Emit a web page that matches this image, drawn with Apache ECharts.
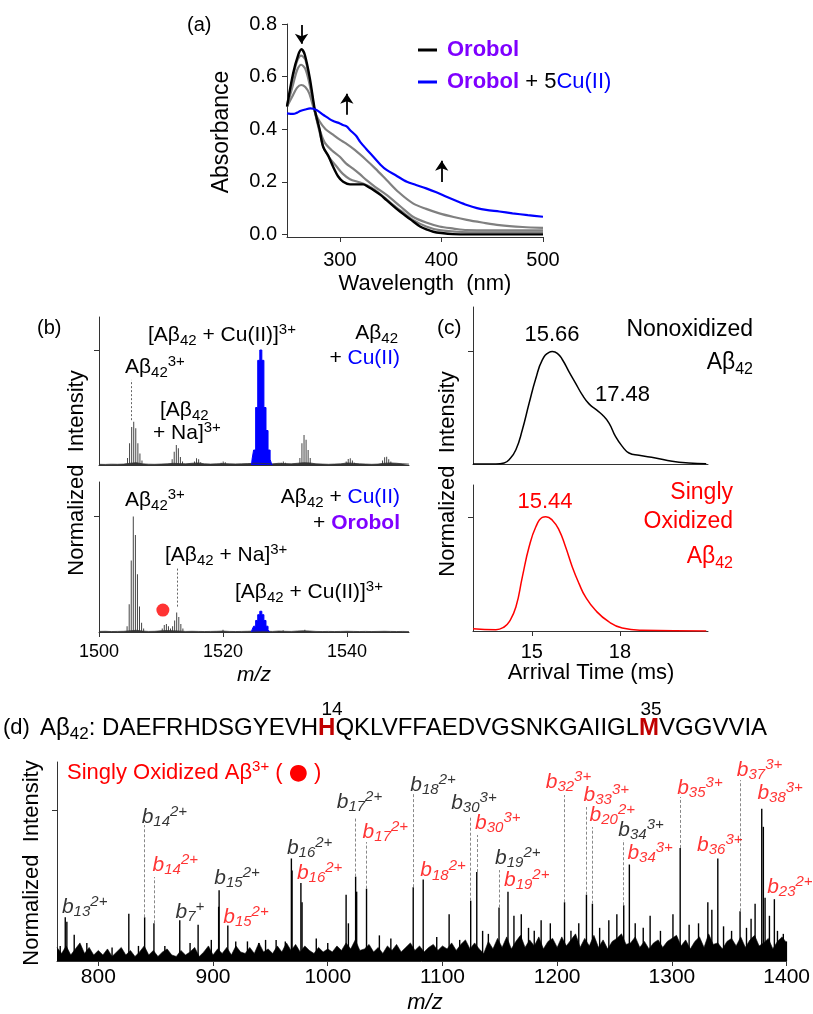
<!DOCTYPE html>
<html lang="en">
<head>
<meta charset="UTF-8">
<title>Orobol / Aβ42 figure</title>
<script src="https://cdn.jsdelivr.net/npm/echarts@6.0.0/dist/echarts.min.js"></script>
<style>
  html, body { margin: 0; padding: 0; background: #fff; }
  #fig { width: 813px; height: 1014px; }
</style>
</head>
<body>
<div id="fig"></div>
<script>
// ---------- (a) UV-vis spectra, [nm, absorbance]
var aBlack = [[248,0.486],[254,0.612],[259,0.682],[262.3,0.704],[265.6,0.682],[270.5,0.593],[275.4,0.473],[280,0.4],[283.6,0.333],[288.5,0.3],[293.4,0.257],[298.4,0.22],[303.3,0.2],[310,0.19],[316,0.19],[323,0.19],[328,0.18],[333,0.169],[340,0.15],[346,0.13],[355,0.1],[366,0.067],[372,0.05],[379,0.03],[386,0.018],[392,0.01],[400,0.005],[411,0.001],[430,0],[460,0],[500,0]];
var aGray1 = [[248,0.486],[254,0.6],[258,0.66],[262,0.68],[266,0.665],[270,0.59],[275,0.475],[280,0.39],[284,0.33],[290,0.29],[297,0.257],[303,0.23],[310,0.21],[320,0.197],[330,0.18],[339,0.156],[350,0.12],[360,0.09],[372,0.055],[385,0.03],[398,0.016],[420,0.009],[440,0.008],[500,0.008]];
var aGray2 = [[248,0.486],[254,0.57],[258,0.625],[262,0.645],[266,0.63],[270,0.575],[275,0.475],[280,0.4],[285,0.35],[292,0.32],[300,0.295],[306,0.27],[313,0.25],[320,0.228],[326,0.207],[335,0.18],[346,0.15],[360,0.105],[372,0.067],[385,0.045],[398,0.03],[412,0.022],[425,0.016],[450,0.015],[500,0.015]];
var aGray3 = [[248,0.486],[254,0.53],[258,0.558],[262,0.568],[266,0.56],[270,0.535],[275,0.47],[280,0.43],[286,0.4],[293,0.38],[300,0.36],[306,0.346],[315,0.32],[326,0.283],[335,0.25],[346,0.207],[358,0.16],[372,0.118],[385,0.097],[398,0.08],[412,0.066],[425,0.055],[440,0.045],[457,0.035],[480,0.028],[500,0.025]];
var aBlue = [[248,0.46],[254,0.458],[258,0.463],[261,0.469],[266,0.475],[271,0.479],[277,0.473],[284,0.454],[293,0.432],[300,0.422],[303,0.416],[307,0.41],[310,0.397],[316,0.375],[320,0.352],[326,0.325],[333,0.295],[340,0.265],[346,0.245],[355,0.225],[366,0.2],[375,0.188],[385,0.175],[395,0.16],[405,0.143],[415,0.127],[425,0.112],[435,0.1],[444,0.093],[457,0.087],[470,0.08],[485,0.073],[500,0.067]];
var aTicksX = [300, 400, 500];
var aTicksY = [0, 0.2, 0.4, 0.6, 0.8];
// arrows: [nm, from, to]
var aArrows = [[262.3,0.796,0.725],[306.9,0.455,0.535],[400.3,0.199,0.28]];

// ---------- (b) mass spectra, [m/z, normalized intensity]
var bUpPeaks = [[1504.6,0.06],[1504.93,0.19],[1505.27,0.33],[1505.6,0.377],[1505.93,0.32],[1506.27,0.19],[1506.6,0.1],[1506.93,0.04],
  [1511.8,0.05],[1512.13,0.116],[1512.47,0.174],[1512.8,0.145],[1513.13,0.07],[1513.47,0.03],
  [1515.4,0.03],[1515.73,0.058],[1516.07,0.05],[1516.4,0.025],
  [1519.7,0.02],[1520.03,0.03],[1520.37,0.025],
  [1529.4,0.02],[1529.73,0.03],[1530.07,0.02],
  [1532.4,0.06],[1532.73,0.19],[1533.07,0.26],[1533.4,0.22],[1533.73,0.13],[1534.07,0.06],
  [1539.87,0.03],[1540.2,0.052],[1540.53,0.058],[1540.87,0.04],[1541.2,0.02],
  [1545.73,0.04],[1546.07,0.067],[1546.4,0.072],[1546.73,0.05],[1547.07,0.03]];
var bUpCu = [[1524.6,0],[1524.77,0.05],[1525.1,0.13],[1525.43,0.5],[1525.77,0.91],[1526.1,1.0],[1526.43,0.91],[1526.77,0.5],[1527.1,0.3],[1527.43,0.13],[1527.77,0.05],[1528.0,0]];
var bLoPeaks = [[1504.53,0.05],[1504.87,0.24],[1505.2,0.62],[1505.53,1.0],[1505.87,0.84],[1506.2,0.5],[1506.53,0.22],[1506.87,0.08],[1507.2,0.03],
  [1510.2,0.03],[1510.53,0.06],[1510.87,0.07],[1511.2,0.05],[1511.53,0.03],
  [1511.87,0.05],[1512.2,0.1],[1512.53,0.17],[1512.87,0.13],[1513.2,0.07],[1513.53,0.03],
  [1520.0,0.02],[1529.7,0.015],[1533.2,0.02]];
var bLoCu = [[1524.6,0],[1524.77,0.02],[1525.1,0.05],[1525.43,0.1],[1525.77,0.15],[1526.1,0.18],[1526.43,0.15],[1526.77,0.1],[1527.1,0.05],[1527.43,0.02],[1527.6,0]];
var bOxDot = [[1510.3,0.19]];
var bNoiseStart = 1500, bNoiseStep = 1;
var bUpNoise = [0.006,0.005,0.007,0.006,0.008,0.015,0.02,0.01,0.007,0.006,0.008,0.01,0.015,0.012,0.01,0.015,0.018,0.01,0.008,0.01,0.012,0.01,0.009,0.01,0.012,0.015,0.015,0.012,0.01,0.015,0.012,0.01,0.015,0.02,0.018,0.01,0.008,0.006,0.008,0.01,0.018,0.015,0.01,0.008,0.006,0.008,0.015,0.018,0.015,0.01,0.008];
var bLoNoise = [0.005,0.006,0.004,0.005,0.006,0.01,0.015,0.008,0.005,0.006,0.01,0.012,0.01,0.008,0.005,0.006,0.005,0.004,0.005,0.006,0.008,0.005,0.004,0.005,0.006,0.008,0.005,0.006,0.005,0.008,0.006,0.005,0.008,0.01,0.008,0.005,0.004,0.005,0.004,0.005,0.006,0.005,0.004,0.005,0.004,0.005,0.006,0.005,0.004,0.005,0.004];
var bTicksX = [1500, 1520, 1540];
// dotted guides: [m/z, from, to]
var bUpGuide = [[1505.2,0.39,0.74]];
var bLoGuide = [[1512.6,0.22,0.554]];

// ---------- (c) arrival time distributions, [ms, normalized intensity]
var cBlack = [[13,0],[13.78,0],[14.06,0.009],[14.23,0.038],[14.46,0.127],[14.68,0.305],[14.91,0.54],[15.14,0.763],[15.36,0.926],[15.59,0.994],[15.7,1.0],[15.87,0.985],[16.04,0.93],[16.27,0.82],[16.49,0.72],[16.72,0.615],[16.95,0.535],[17.17,0.488],[17.4,0.438],[17.63,0.364],[17.85,0.246],[18.08,0.157],[18.31,0.098],[18.65,0.077],[19.21,0.053],[19.78,0.024],[20.34,0.009],[20.94,0.003]];
var cRed = [[13,0.02],[13.78,0.012],[14.06,0.035],[14.23,0.079],[14.46,0.21],[14.68,0.474],[14.91,0.737],[15.14,0.912],[15.36,0.994],[15.48,1.0],[15.7,0.97],[15.93,0.883],[16.15,0.737],[16.38,0.561],[16.61,0.415],[16.83,0.298],[17.17,0.181],[17.63,0.079],[18.08,0.026],[18.76,0.006],[20.94,0]];
var cTicksX = [15, 18];

// ---------- (d) MS/MS spectrum, [m/z, normalized intensity]
var dPeaks = [[766.8,0.1],[771.2,0.29],[772.6,0.26],[779,0.174],[790,0.12],[812,0.09],[826.6,0.314],[835,0.1],[840.4,0.29],[848.5,0.25],[858,0.1],[871,0.27],[880,0.12],[887,0.24],[898.5,0.14],[904.9,0.36],[905.3,0.47],[912.9,0.236],[919.8,0.13],[930,0.13],[940,0.12],[945.8,0.14],[955,0.14],[963,0.13],[968.3,0.68],[968.9,0.6],[976.6,0.517],[977.6,0.39],[990,0.15],[1000,0.12],
  [1016,0.44],[1018,0.25],[1024.3,0.56],[1025.2,0.46],[1033.8,0.48],[1045,0.17],[1055,0.15],[1074.5,0.49],[1083.2,0.54],[1095,0.16],[1105.8,0.31],[1115,0.14],[1124.6,0.4],[1129.9,0.59],[1135,0.2],[1140,0.18],[1149.3,0.355],[1157.1,0.46],[1162.3,0.3],[1168.7,0.31],[1175,0.22],[1180,0.2],[1186,0.27],[1194,0.25],
  [1206.4,0.39],[1212,0.2],[1218.8,0.25],[1225.5,0.44],[1230.7,0.38],[1237,0.22],[1245,0.27],[1252,0.31],[1258,0.37],[1262.9,0.64],[1268,0.25],[1275,0.22],[1281,0.3],[1290,0.2],[1300.9,0.31],[1307.2,0.75],[1315,0.24],[1323.2,0.25],[1331.3,0.39],[1334.8,0.34],[1340,0.68],[1345,0.23],[1352,0.2],[1359.4,0.33],[1365,0.22],[1369,0.28],[1372.5,0.38],[1378.3,1.01],[1379.7,0.89],[1381.2,0.42],[1385,0.3],[1389.3,0.41],[1392,0.2],[1397.1,0.18],[1400,0.13]];
var dNoiseStart = 764, dNoiseStep = 4;
var dNoise = [0.09,0.05,0.1,0.04,0.08,0.12,0.05,0.09,0.04,0.07,
  0.04,0.08,0.03,0.06,0.09,0.04,0.07,0.03,0.06,0.1,0.04,0.07,0.03,0.06,0.08,0.04,0.03,0.07,0.04,0.06,0.09,0.03,0.06,0.1,0.04,
  0.08,0.05,0.09,0.04,0.1,0.06,0.05,0.09,0.05,0.12,0.06,0.08,0.05,0.1,0.06,0.12,0.07,0.11,0.06,0.1,0.07,0.05,0.09,0.06,0.08,
  0.06,0.1,0.07,0.12,0.08,0.14,0.07,0.08,0.11,0.06,0.09,0.05,0.1,0.07,0.11,0.06,0.09,0.12,0.07,0.1,0.06,0.09,0.11,0.07,0.1,
  0.08,0.12,0.07,0.11,0.14,0.08,0.12,0.08,0.05,0.13,0.08,0.15,0.09,0.16,0.08,0.13,0.17,0.09,0.14,0.1,0.16,0.08,0.13,0.15,0.09,
  0.16,0.1,0.14,0.18,0.09,0.15,0.1,0.17,0.09,0.14,0.08,0.13,0.15,0.18,0.11,0.12,0.16,0.09,0.13,0.08,0.12,0.14,0.09,0.13,0.15,
  0.17,0.1,0.14,0.08,0.13,0.16,0.09,0.18,0.11,0.12,0.08,0.13,0.15,0.1,0.16,0.09,0.14,0.17,0.1,0.12,0.15,0.08,0.13,0.16,0.12];
var dTicksX = [800, 900, 1000, 1100, 1200, 1300, 1400];
// fragment labels: [m/z of label left edge, label height, index, charge]
var dLabBlack = [[768.3,0.358,'13','2+'],[837.8,0.955,'14','2+'],[901.1,0.55,'15','2+'],[867.3,0.325,'7','+'],[964.4,0.75,'16','2+'],[1007.8,1.054,'17','2+'],[1072,1.167,'18','2+'],[1107.6,1.048,'30','3+'],[1145.8,0.683,'19','2+'],[1253.3,0.869,'34','3+']];
var dLabRed = [[847.3,0.637,'14','2+'],[908.9,0.292,'15','2+'],[973.1,0.584,'16','2+'],[1030.4,0.855,'17','2+'],[1128.4,0.915,'30','3+'],[1080.7,0.6,'18','2+'],[1153.6,0.537,'19','2+'],[1190,1.187,'32','3+'],[1223,1.101,'33','3+'],[1228.2,0.968,'20','2+'],[1261.2,0.716,'34','3+'],[1304.6,1.147,'35','3+'],[1321.9,0.769,'36','3+'],[1356.6,1.267,'37','3+'],[1374.5,1.114,'38','3+'],[1383,0.491,'23','2+']];
// dashed guides: [m/z, from, to]
var dGuides = [[840.4,0.29,0.902],[848.5,0.25,0.557],[1024.3,0.56,0.955],[1033.8,0.48,0.789],[1074.5,0.49,1.114],[1124.6,0.4,0.955],[1129.9,0.59,0.836],[1149.3,0.355,0.603],[1206.4,0.39,1.101],[1225.5,0.44,1.021],[1230.7,0.38,0.889],[1258,0.37,0.802],[1307.2,0.75,1.088],[1359.4,0.33,1.2]];

var FONT = '"Liberation Sans", Arial, sans-serif';
var AX = '#333';
var BLUE = '#0000ff', PURPLE = '#7f00ff', RED = '#ff0000', DARKRED = '#c00000';

function pairs(start, step, vals) {
  return vals.map(function (v, i) { return [start + i * step, v]; });
}
function guides(list) {
  return list.map(function (g) { return [{coord: [g[0], g[1]]}, {coord: [g[0], g[2]]}]; });
}

function xAx(gi, min, max, ticks, fs, margin) {
  return {
    type: 'value', gridIndex: gi, min: min, max: max,
    axisLine: {show: true, onZero: false, lineStyle: {color: AX, width: 1}},
    axisTick: {show: ticks.length > 0, length: 5, customValues: ticks, lineStyle: {color: AX}},
    axisLabel: {show: ticks.length > 0, customValues: ticks, fontSize: fs, fontFamily: FONT, color: '#000', margin: margin,
      formatter: function (v) { return String(v); }},
    splitLine: {show: false}
  };
}
function yAx(gi, min, max, ticks, labels) {
  return {
    type: 'value', gridIndex: gi, min: min, max: max,
    axisLine: {show: true, onZero: false, lineStyle: {color: AX, width: 1}},
    axisTick: {show: true, length: 5, customValues: ticks, lineStyle: {color: AX}},
    axisLabel: {show: !!labels, customValues: ticks, fontSize: 20, fontFamily: FONT, color: '#000', margin: 10,
      formatter: function (v) { return v.toFixed(1); }},
    splitLine: {show: false}
  };
}

function rich(fs, c) {
  var sm = Math.round(fs * 0.7), lh = Math.round(fs * 1.25);
  function st(size, va, extra) {
    var o = {fontSize: size, fontFamily: FONT, lineHeight: size === fs ? lh : size, verticalAlign: va, fill: c};
    for (var k in extra) o[k] = extra[k];
    return o;
  }
  return {
    n: st(fs, 'middle', {}),
    s: st(sm, 'bottom', {}),
    p: st(sm, 'top', {}),
    nb: st(fs, 'middle', {fill: BLUE}),
    np: st(fs, 'middle', {fill: PURPLE, fontWeight: 'bold'}),
    r: st(fs, 'middle', {fill: DARKRED, fontWeight: 'bold'}),
    dot: st(fs, 'middle', {fontFamily: '"DejaVu Sans", sans-serif'})
  };
}
function txt(x, y, text, o) {
  o = o || {};
  var fs = o.fs || 20, c = o.color || '#000';
  return {
    type: 'text', x: x, y: y, rotation: o.rot || 0, silent: true,
    style: {
      text: text, fill: c, fontSize: fs, fontFamily: FONT,
      fontWeight: o.bold ? 'bold' : 'normal', fontStyle: o.italic ? 'italic' : 'normal',
      align: o.align || 'left', verticalAlign: 'middle', rich: rich(fs, c)
    }
  };
}
function seg(x1, y1, x2, y2, c, w) {
  return {type: 'line', silent: true, shape: {x1: x1, y1: y1, x2: x2, y2: y2}, style: {stroke: c, lineWidth: w}};
}

var stickRich = {
  b: {fontStyle: 'italic', fontSize: 21, fontFamily: FONT, lineHeight: 25, verticalAlign: 'middle'},
  s: {fontStyle: 'italic', fontSize: 15, fontFamily: FONT, lineHeight: 15, verticalAlign: 'bottom'},
  p: {fontStyle: 'italic', fontSize: 15, fontFamily: FONT, lineHeight: 15, verticalAlign: 'top'}
};
function labSeries(list, color) {
  return {
    type: 'scatter', xAxisIndex: 5, yAxisIndex: 5, symbolSize: 0, silent: true, z: 5,
    data: list.map(function (l) { return {value: [l[0], l[1]], sub: l[2], sup: l[3]}; }),
    label: {
      show: true, position: 'right', distance: 0, color: color,
      formatter: function (p) { return '{b|b}{s|' + p.data.sub + '}{p|' + p.data.sup + '}'; },
      rich: stickRich
    }
  };
}
function line(xi, data, color, width, smooth) {
  return {type: 'line', xAxisIndex: xi, yAxisIndex: xi, data: data, symbol: 'none', smooth: smooth,
    silent: true, lineStyle: {color: color, width: width}};
}

var chart = echarts.init(document.getElementById('fig'), null, {renderer: 'canvas'});

var blackA = line(0, aBlack, '#000', 2.4, 0.3);
blackA.markLine = {silent: true, symbol: ['none', 'arrow'], symbolSize: 10, animation: false,
  lineStyle: {color: '#000', width: 1.8, type: 'solid'}, label: {show: false},
  data: guides(aArrows)};

var dotted = {silent: true, symbol: ['none', 'none'], animation: false, label: {show: false},
  lineStyle: {color: '#666', width: 1, type: [2, 2]}};

var option = {
  animation: false,
  backgroundColor: '#fff',
  grid: [
    {left: 287, top: 24, width: 256, height: 213},
    {left: 99, top: 317, width: 310, height: 148},
    {left: 99, top: 482, width: 310, height: 150},
    {left: 473, top: 307, width: 235, height: 157},
    {left: 473, top: 485, width: 235, height: 146},
    {left: 57, top: 762, width: 733, height: 199}
  ],
  xAxis: [
    xAx(0, 248, 500, aTicksX, 20, 13),
    xAx(1, 1500, 1550, [], 18, 10),
    xAx(2, 1500, 1550, bTicksX, 18, 11),
    xAx(3, 13, 21, [], 20, 10),
    xAx(4, 13, 21, cTicksX, 20, 11),
    xAx(5, 764, 1400, dTicksX, 21, 6)
  ],
  yAxis: [
    yAx(0, -0.01, 0.8, aTicksY, true),
    yAx(1, 0, 1.287, [1], false),
    yAx(2, 0, 1.30, [1], false),
    yAx(3, 0, 1.397, [1], false),
    yAx(4, 0, 1.278, [1], false),
    yAx(5, 0, 1.32, [1], false)
  ],
  series: [
    line(0, aGray3, '#808080', 2.2, 0.3),
    line(0, aGray2, '#808080', 2.2, 0.3),
    line(0, aGray1, '#808080', 2.2, 0.3),
    blackA,
    line(0, aBlue, BLUE, 2.2, 0.3),

    {type: 'line', xAxisIndex: 1, yAxisIndex: 1, data: pairs(bNoiseStart, bNoiseStep, bUpNoise), symbol: 'none', silent: true,
      lineStyle: {color: '#333', width: 0.8}, areaStyle: {color: '#333', opacity: 1}},
    {type: 'bar', xAxisIndex: 1, yAxisIndex: 1, data: bUpPeaks, barWidth: 1, silent: true, itemStyle: {color: '#444'},
      markLine: Object.assign({data: guides(bUpGuide)}, dotted)},
    {type: 'line', xAxisIndex: 1, yAxisIndex: 1, data: bUpCu, step: 'middle', symbol: 'none', silent: true,
      lineStyle: {color: BLUE, width: 1}, areaStyle: {color: BLUE, opacity: 1}},

    {type: 'line', xAxisIndex: 2, yAxisIndex: 2, data: pairs(bNoiseStart, bNoiseStep, bLoNoise), symbol: 'none', silent: true,
      lineStyle: {color: '#333', width: 0.8}, areaStyle: {color: '#333', opacity: 1}},
    {type: 'bar', xAxisIndex: 2, yAxisIndex: 2, data: bLoPeaks, barWidth: 1, silent: true, itemStyle: {color: '#444'},
      markLine: Object.assign({data: guides(bLoGuide)}, dotted)},
    {type: 'line', xAxisIndex: 2, yAxisIndex: 2, data: bLoCu, step: 'middle', symbol: 'none', silent: true,
      lineStyle: {color: BLUE, width: 1}, areaStyle: {color: BLUE, opacity: 1}},
    {type: 'scatter', xAxisIndex: 2, yAxisIndex: 2, data: bOxDot, symbolSize: 13, silent: true, itemStyle: {color: RED}},

    line(3, cBlack, '#000', 1.5, 0.5),
    line(4, cRed, RED, 1.5, 0.5),

    {type: 'line', xAxisIndex: 5, yAxisIndex: 5, data: pairs(dNoiseStart, dNoiseStep, dNoise), symbol: 'none', silent: true,
      lineStyle: {color: '#000', width: 0.6}, areaStyle: {color: '#000', opacity: 1}},
    {type: 'bar', xAxisIndex: 5, yAxisIndex: 5, data: dPeaks, barWidth: 1.4, silent: true, itemStyle: {color: '#000'},
      markLine: {silent: true, symbol: ['none', 'none'], animation: false, label: {show: false},
        lineStyle: {color: '#888', width: 1, type: [3, 2]}, data: guides(dGuides)}},
    labSeries(dLabBlack, '#000'),
    labSeries(dLabRed, RED)
  ],
  graphic: [
    // (a)
    txt(187, 25, '(a)', {fs: 20}),
    txt(222, 132, 'Absorbance', {fs: 23, rot: Math.PI / 2, align: 'center'}),
    txt(425, 284, 'Wavelength  (nm)', {fs: 22, align: 'center'}),
    seg(418, 50, 437, 50, '#000', 3),
    seg(418, 82, 437, 82, BLUE, 3),
    txt(447, 50, '{np|Orobol}', {fs: 22}),
    txt(447, 82, '{np|Orobol}{n| + 5}{nb|Cu(II)}', {fs: 22}),
    // (b)
    txt(37, 328, '(b)', {fs: 20}),
    txt(77, 473, 'Normalized  Intensity', {fs: 22, rot: Math.PI / 2, align: 'center'}),
    txt(148, 335, '{n|[Aβ}{s|42}{n| + Cu(II)]}{p|3+}', {fs: 21}),
    txt(398, 333, '{n|Aβ}{s|42}', {fs: 21, align: 'right'}),
    txt(400, 358, '{n|+ }{nb|Cu(II)}', {fs: 21, align: 'right'}),
    txt(125, 367, '{n|Aβ}{s|42}{p|3+}', {fs: 21}),
    txt(160, 410, '{n|[Aβ}{s|42}', {fs: 21}),
    txt(153, 433, '{n|+ Na]}{p|3+}', {fs: 21}),
    txt(125, 500, '{n|Aβ}{s|42}{p|3+}', {fs: 21}),
    txt(400, 497, '{n|Aβ}{s|42}{n| + }{nb|Cu(II)}', {fs: 21, align: 'right'}),
    txt(400, 523, '{n|+ }{np|Orobol}', {fs: 21, align: 'right'}),
    txt(165, 555, '{n|[Aβ}{s|42}{n| + Na]}{p|3+}', {fs: 21}),
    txt(235, 592, '{n|[Aβ}{s|42}{n| + Cu(II)]}{p|3+}', {fs: 21}),
    txt(254, 675, 'm/z', {fs: 21, italic: true, align: 'center'}),
    // (c)
    txt(437, 328, '(c)', {fs: 21}),
    txt(448, 474, 'Normalized  Intensity', {fs: 22, rot: Math.PI / 2, align: 'center'}),
    txt(552, 335, '15.66', {fs: 22, align: 'center'}),
    txt(753, 330, 'Nonoxidized', {fs: 23, align: 'right'}),
    txt(753, 363, '{n|Aβ}{s|42}', {fs: 23, align: 'right'}),
    txt(595, 395, '17.48', {fs: 22}),
    txt(545, 502, '15.44', {fs: 22, align: 'center', color: RED}),
    txt(733, 493, 'Singly', {fs: 23, align: 'right', color: RED}),
    txt(733, 522, 'Oxidized', {fs: 23, align: 'right', color: RED}),
    txt(733, 557, '{n|Aβ}{s|42}', {fs: 23, align: 'right', color: RED}),
    txt(591, 673, 'Arrival Time (ms)', {fs: 22, align: 'center'}),
    // (d)
    txt(3, 728, '(d)', {fs: 22}),
    txt(40, 728, '{n|Aβ}{s|42}{n|: DAEFRHDSGYEVH}{r|H}{n|QKLVFFAEDVGSNKGAIIGL}{r|M}{n|VGGVVIA}', {fs: 24}),
    txt(332, 710, '14', {fs: 19, align: 'center'}),
    txt(651, 710, '35', {fs: 19, align: 'center'}),
    txt(67, 773, '{n|Singly Oxidized Aβ}{p|3+}{n| ( }{dot|●}{n| )}', {fs: 22, color: RED}),
    txt(32, 863, 'Normalized  Intensity', {fs: 22, rot: Math.PI / 2, align: 'center'}),
    txt(425, 1003, 'm/z', {fs: 22, italic: true, align: 'center'})
  ]
};
chart.setOption(option);
</script>
</body>
</html>
